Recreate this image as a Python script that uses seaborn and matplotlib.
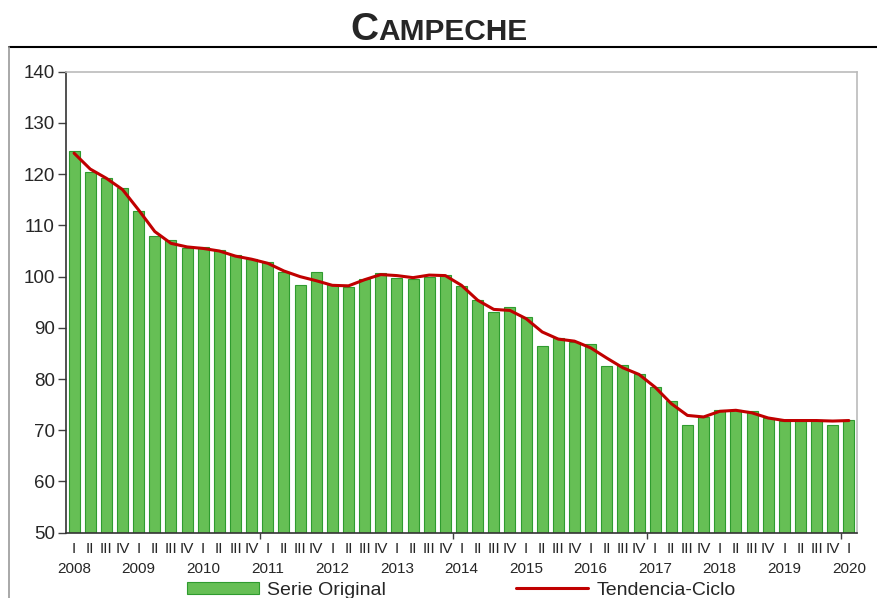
import numpy as np
import pandas as pd
import seaborn as sns
import matplotlib.pyplot as plt
from matplotlib.lines import Line2D
import matplotlib.transforms as mtransforms

sns.set_style('white')
plt.rcParams['font.family'] = ['Liberation Sans', 'DejaVu Sans']

# serie trimestral 2008 I - 2020 I
years = list(range(2008, 2021))
quarters = ['I', 'II', 'III', 'IV']
serie_original = [124.5, 120.5, 119.2, 117.4, 112.9, 108.0, 107.1, 105.6,
                  105.8, 105.2, 104.2, 103.4, 102.9, 100.9, 98.3, 100.9,
                  98.3, 98.0, 99.5, 100.8, 99.8, 99.6, 100.0, 100.3,
                  98.2, 95.4, 93.1, 94.0, 92.1, 86.4, 88.1, 87.2,
                  86.9, 82.5, 82.8, 80.9, 78.4, 75.8, 71.1, 72.6,
                  73.9, 73.9, 73.8, 72.3, 71.9, 71.9, 72.0, 71.1,
                  72.1]
tendencia_ciclo = [124.1, 121.0, 119.2, 117.0, 113.0, 108.8, 106.5, 105.8,
                   105.5, 105.0, 104.0, 103.4, 102.6, 101.1, 100.0, 99.2,
                   98.3, 98.2, 99.4, 100.4, 100.2, 99.8, 100.3, 100.2,
                   98.3, 95.4, 93.6, 93.4, 91.8, 89.2, 87.8, 87.4,
                   86.1, 84.1, 82.2, 80.9, 78.4, 75.2, 72.9, 72.6,
                   73.7, 73.9, 73.4, 72.4, 71.9, 71.9, 71.9, 71.8,
                   71.9]

periodos = [f'{y} {q}' for y in years for q in quarters][:len(serie_original)]
df = pd.DataFrame({'periodo': periodos,
                   'serie': serie_original,
                   'tendencia': tendencia_ciclo})
df['pos'] = np.arange(len(df))

fig = plt.figure(figsize=(8.78, 5.98), dpi=100)
ax = fig.add_axes([0.0752, 0.1092, 0.9008, 0.7708])

sns.barplot(data=df, x='pos', y='serie', color='#66BF55', edgecolor='#2F9B2F',
            linewidth=0.8, width=0.68, saturation=1, ax=ax,
            label='Serie Original')
sns.lineplot(data=df, x='pos', y='tendencia', color='#C00000', linewidth=2.2,
             ax=ax, label='Tendencia-Ciclo')

ax.set_ylim(50, 140)
ax.set_yticks(range(50, 141, 10))
ax.set_xlim(-0.5, len(df) - 0.5)
ax.set_xlabel('')
ax.set_ylabel('')
ax.tick_params(axis='y', labelsize=13.5, length=6, width=1, color='#404040',
               pad=2, left=True)
ax.set_xticks([11.5, 23.5, 35.5, 47.5])
ax.set_xticklabels([])
ax.tick_params(axis='x', length=4, width=1, color='#404040', bottom=True)

for side in ['top', 'right']:
    ax.spines[side].set_color('#BBBBBB')
    ax.spines[side].set_linewidth(1.2)
for side in ['left', 'bottom']:
    ax.spines[side].set_color('#333333')
    ax.spines[side].set_linewidth(1.2)

# etiquetas de trimestre y de año
trans = mtransforms.blended_transform_factory(ax.transData, ax.transAxes)
for i, p in enumerate(df['periodo']):
    y, q = p.split()
    ax.text(i, -0.036, q, transform=trans, ha='center', va='center',
            fontsize=11)
    if q == 'I':
        ax.text(i, -0.078, y, transform=trans, ha='center', va='center',
                fontsize=11)

handles, labels = ax.get_legend_handles_labels()
orden = [labels.index('Serie Original'), labels.index('Tendencia-Ciclo')]
ax.legend([handles[k] for k in orden], [labels[k] for k in orden],
          loc='upper center', bbox_to_anchor=(0.5, -0.106), ncol=2,
          frameon=False, fontsize=14, handlelength=3.7, handleheight=0.55,
          columnspacing=6.7, handletextpad=0.45, borderpad=0,
          borderaxespad=0)

# marco exterior
fig.add_artist(Line2D([9 / 878, 1], [1 - 47 / 598, 1 - 47 / 598],
                      color='black', linewidth=1.5, transform=fig.transFigure))
fig.add_artist(Line2D([9 / 878, 9 / 878], [0, 1 - 47 / 598],
                      color='#999999', linewidth=1.2, transform=fig.transFigure))

# título en versalitas
fig.text(378 / 878, 1 - 40 / 598, 'C', ha='right', va='baseline',
         fontsize=28, fontweight='bold')
fig.text(378 / 878, 1 - 40 / 598, 'AMPECHE', ha='left', va='baseline',
         fontsize=21.5, fontweight='bold')

fig.savefig('out.png', dpi=100, facecolor='white')
